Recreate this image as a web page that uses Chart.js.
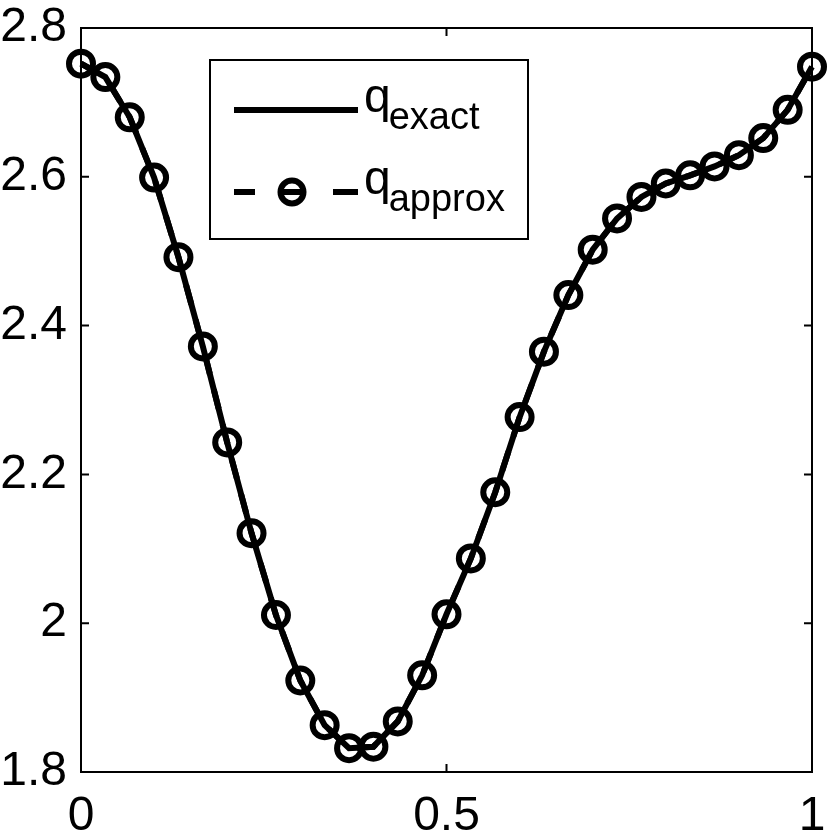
<!DOCTYPE html>
<html><head><meta charset="utf-8">
<script src="https://cdn.jsdelivr.net/npm/chart.js@4"></script>
<style>html,body{margin:0;padding:0;background:#fff}canvas{display:block}</style>
</head><body>
<canvas id="c" width="830" height="835"></canvas>
<script>
const xValues = [0, 0.0333, 0.0667, 0.1, 0.1333, 0.1667, 0.2, 0.2333, 0.2667, 0.3, 0.3333,
  0.3667, 0.4, 0.4333, 0.4667, 0.5, 0.5333, 0.5667, 0.6, 0.6333, 0.6667,
  0.7, 0.7333, 0.7667, 0.8, 0.8333, 0.8667, 0.9, 0.9333, 0.9667, 1];
const qExact = [2.752, 2.734, 2.680, 2.599, 2.492, 2.372, 2.243, 2.121, 2.011, 1.923, 1.863,
  1.832, 1.834, 1.868, 1.930, 2.012, 2.087, 2.176, 2.277, 2.365, 2.441,
  2.502, 2.544, 2.573, 2.591, 2.602, 2.614, 2.629, 2.652, 2.690, 2.748];
const qApprox = [2.752, 2.734, 2.680, 2.599, 2.492, 2.372, 2.243, 2.121, 2.011, 1.923, 1.863,
  1.832, 1.834, 1.868, 1.930, 2.012, 2.087, 2.176, 2.277, 2.365, 2.441,
  2.502, 2.544, 2.573, 2.591, 2.602, 2.614, 2.629, 2.652, 2.690, 2.748];
const xTicks = [0, 0.5, 1];
const xTickLabels = ['0', '0.5', '1'];
const yTicks = [1.8, 2.0, 2.2, 2.4, 2.6, 2.8];
const yTickLabels = ['1.8', '2', '2.2', '2.4', '2.6', '2.8'];
const seriesNames = [['q', 'exact'], ['q', 'approx']];

const FONT = '"Liberation Sans", Arial, Helvetica, sans-serif';

const framePlugin = {
  id: 'frame',
  afterDatasetsDraw(chart) {
    const ctx = chart.ctx, a = chart.chartArea;
    const xs = chart.scales.x, ys = chart.scales.y;
    ctx.save();
    ctx.strokeStyle = '#000';
    ctx.lineWidth = 2;
    ctx.strokeRect(a.left, a.top, a.right - a.left, a.bottom - a.top);
    const tl = 8;
    ctx.beginPath();
    xTicks.forEach(v => {
      const px = xs.getPixelForValue(v);
      ctx.moveTo(px, a.bottom); ctx.lineTo(px, a.bottom - tl);
      ctx.moveTo(px, a.top); ctx.lineTo(px, a.top + tl);
    });
    yTicks.forEach(v => {
      const py = ys.getPixelForValue(v);
      ctx.moveTo(a.left, py); ctx.lineTo(a.left + tl, py);
      ctx.moveTo(a.right, py); ctx.lineTo(a.right - tl, py);
    });
    ctx.stroke();
    ctx.restore();
  },
  afterDraw(chart) {
    const ctx = chart.ctx;
    ctx.save();
    const bx = 210, by = 60, bw = 318, bh = 179;
    ctx.fillStyle = '#fff';
    ctx.fillRect(bx, by, bw, bh);
    ctx.strokeStyle = '#000';
    ctx.lineWidth = 2;
    ctx.strokeRect(bx, by, bw, bh);
    ctx.lineCap = 'butt';
    const y1 = 110, y2 = 192, lx0 = 234, lx1 = 358;
    ctx.lineWidth = 6;
    ctx.beginPath(); ctx.moveTo(lx0, y1); ctx.lineTo(lx1, y1); ctx.stroke();
    ctx.beginPath();
    ctx.moveTo(lx0, y2); ctx.lineTo(lx0 + 21, y2);
    ctx.moveTo(282, y2); ctx.lineTo(302, y2);
    ctx.moveTo(lx1 - 25, y2); ctx.lineTo(lx1, y2);
    ctx.stroke();
    ctx.beginPath(); ctx.arc(292, y2, 11.5, 0, Math.PI * 2); ctx.stroke();
    ctx.fillStyle = '#000';
    ctx.textBaseline = 'alphabetic';
    ctx.textAlign = 'left';
    [[y1, 0], [y2, 1]].forEach(([y, i]) => {
      ctx.font = '48px ' + FONT;
      const q = seriesNames[i][0];
      ctx.fillText(q, 364, y + 2);
      const w = ctx.measureText(q).width;
      ctx.font = '38px ' + FONT;
      ctx.fillText(seriesNames[i][1], 364 + w - 2, y + 19);
    });
    ctx.restore();
  }
};

new Chart(document.getElementById('c'), {
  type: 'line',
  data: {
    datasets: [
      {
        label: 'q_exact',
        data: xValues.map((x, i) => ({x, y: qExact[i]})),
        borderColor: '#000',
        borderWidth: 6,
        pointRadius: 0,
        fill: false,
        tension: 0,
        clip: false
      },
      {
        label: 'q_approx',
        data: xValues.map((x, i) => ({x, y: qApprox[i]})),
        borderColor: '#000',
        borderWidth: 6,
        borderDash: [20, 16],
        pointRadius: 12,
        pointBorderWidth: 6,
        pointBorderColor: '#000',
        pointBackgroundColor: 'rgba(0,0,0,0)',
        pointStyle: 'circle',
        fill: false,
        tension: 0,
        clip: false
      }
    ]
  },
  options: {
    responsive: false,
    animation: false,
    devicePixelRatio: 1,
    layout: { padding: { top: 28, right: 14, left: 0, bottom: 0 } },
    plugins: { legend: { display: false }, tooltip: { enabled: false } },
    scales: {
      x: {
        type: 'linear', min: 0, max: 1,
        grid: { display: false, drawTicks: false },
        border: { display: false },
        afterBuildTicks: s => { s.ticks = xTicks.map(v => ({value: v})); },
        afterFit: s => { s.height = 63; s.paddingLeft = 0; s.paddingRight = 0; },
        ticks: {
          color: '#000', padding: 16, maxRotation: 0, autoSkip: false,
          font: { family: FONT, size: 48 },
          callback: (v) => { const i = xTicks.indexOf(v); return i >= 0 ? xTickLabels[i] : ''; }
        }
      },
      y: {
        type: 'linear', min: 1.8, max: 2.8,
        grid: { display: false, drawTicks: false },
        border: { display: false },
        afterBuildTicks: s => { s.ticks = yTicks.map(v => ({value: v})); },
        afterFit: s => { s.width = 81; s.paddingTop = 0; s.paddingBottom = 0; },
        ticks: {
          color: '#000', padding: 14, autoSkip: false,
          font: { family: FONT, size: 48 },
          callback: (v) => { const i = yTicks.findIndex(t => Math.abs(t - v) < 1e-9); return i >= 0 ? yTickLabels[i] : ''; }
        }
      }
    }
  },
  plugins: [framePlugin]
});
</script>
</body></html>
